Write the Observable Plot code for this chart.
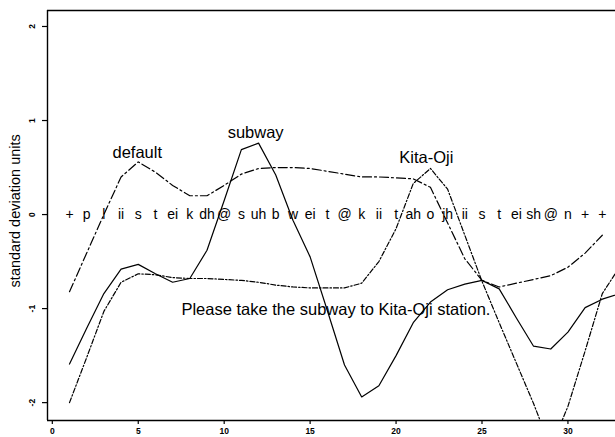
<!DOCTYPE html>
<html><head><meta charset="utf-8">
<script src="https://cdn.jsdelivr.net/npm/d3@7"></script>
<script src="https://cdn.jsdelivr.net/npm/@observablehq/plot@0.6"></script>
<style>body{margin:0;background:#fff}</style>
</head><body><div id="chart"></div>
<script>
const phonemes = ["+","p","l","ii","s","t","ei","k","dh","@","s","uh","b","w","ei","t","@","k","ii","t","ah","o","jh","ii","s","t","ei","sh","@","n","+","+"];
const defaultContour = [-0.82,-0.41,0.0,0.40,0.56,0.45,0.31,0.20,0.20,0.31,0.43,0.49,0.50,0.50,0.49,0.46,0.43,0.40,0.40,0.39,0.38,0.29,-0.09,-0.47,-0.70,-0.77,-0.73,-0.69,-0.65,-0.56,-0.41,-0.22];
const subwayContour = [-1.59,-1.21,-0.84,-0.58,-0.53,-0.63,-0.72,-0.68,-0.38,0.15,0.69,0.76,0.42,-0.06,-0.45,-1.02,-1.60,-1.94,-1.82,-1.50,-1.15,-0.93,-0.80,-0.74,-0.70,-0.79,-1.10,-1.40,-1.43,-1.25,-0.99,-0.90,-0.84];
const kitaojiContour = [-2.00,-1.52,-1.03,-0.72,-0.63,-0.64,-0.67,-0.68,-0.68,-0.69,-0.70,-0.72,-0.75,-0.77,-0.78,-0.78,-0.78,-0.73,-0.50,-0.15,0.33,0.49,0.27,-0.22,-0.71,-1.15,-1.58,-2.01,-2.48,-2.04,-1.45,-0.84,-0.56];
const xTicks = [0,5,10,15,20,25,30];
const yTicks = [-2,-1,0,1,2];
const yTickLabels = ["-2","-1","0","1","2"];
const annotationText = ["default","subway","Kita-Oji","Please take the subway to Kita-Oji station."];
const annotationX = [4.94,11.83,21.76,16.5];
const annotationY = [0.655,0.87,0.60,-1.01];
const yLabel = "standard deviation units";

const toRows = arr => arr.map((v,i)=>({x:i+1,y:v}));
const phRows = phonemes.map((p,i)=>({x:i+1,t:p}));
const annRows = annotationText.map((t,i)=>({t,x:annotationX[i],y:annotationY[i]}));

const chart = Plot.plot({
  width: 615, height: 437,
  marginLeft: 47, marginTop: 10, marginBottom: 17, marginRight: 0,
  x: {domain: [-0.28, 34.28], range: [47, 641]},
  y: {domain: [-2.19, 2.17], range: [420, 10]},
  style: {fontFamily: "'Liberation Sans', Arial, Helvetica, sans-serif", background: "white", color: "black"},
  marks: [
    Plot.axisX(xTicks, {tickSize: 4, tickFormat: () => "", label: null, strokeWidth: 1.2}),
    Plot.axisY(yTicks, {tickSize: 5, tickFormat: () => "", label: null, strokeWidth: 1.2}),
    Plot.text(xTicks, {x: d=>d, text: d=>String(d), frameAnchor: "bottom", dy: 13, textAnchor: "middle", fontSize: 8.5, fontWeight: "bold"}),
    Plot.text(yTicks, {y: d=>d, text: (d,i)=>yTickLabels[i], frameAnchor: "left", dx: -15, rotate: -90, textAnchor: "middle", fontSize: 8.5, fontWeight: "bold"}),
    Plot.text([yLabel], {y: () => 0.04, text: d=>d, frameAnchor: "left", dx: -32, rotate: -90, textAnchor: "middle", fontSize: 14.5}),
    Plot.ruleX([-0.28], {stroke: "black", strokeWidth: 1.4}),
    Plot.ruleY([-2.19], {stroke: "black", strokeWidth: 1.4}),
    Plot.ruleY([2.17], {stroke: "black", strokeWidth: 1.4}),
    Plot.text(phRows, {x: "x", y: () => 0, text: "t", fontSize: 14}),
    Plot.line(toRows(defaultContour), {x: "x", y: "y", stroke: "black", strokeWidth: 1.2, strokeDasharray: "9,3,2,3", clip: true}),
    Plot.line(toRows(subwayContour), {x: "x", y: "y", stroke: "black", strokeWidth: 1.2, clip: true}),
    Plot.line(toRows(kitaojiContour), {x: "x", y: "y", stroke: "black", strokeWidth: 1.2, strokeDasharray: "5,2,1.5,2", clip: true}),
    Plot.text(annRows, {x: "x", y: "y", text: "t", fontSize: 16.5})
  ]
});
document.getElementById("chart").appendChild(chart);
</script>
</body></html>
